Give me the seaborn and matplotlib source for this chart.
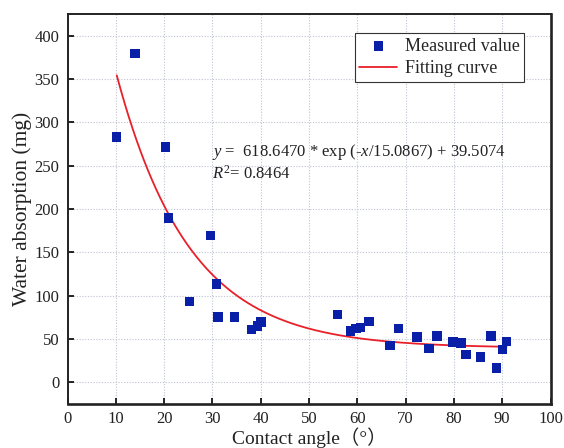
import numpy as np
import pandas as pd
import matplotlib
matplotlib.use("Agg")
import matplotlib.pyplot as plt
import seaborn as sns

# Measured contact angle (deg) and water absorption (mg)
contact_angle = [10.2, 14.0, 20.25, 20.9, 25.2, 29.65, 30.8, 31.2, 34.6, 38.1,
                 39.3, 40.1, 55.9, 58.6, 59.7, 60.6, 62.4, 66.8, 68.5, 72.4,
                 74.8, 76.5, 79.8, 81.5, 82.5, 85.5, 87.7, 88.8, 90.0, 90.9]
water_absorption = [283.0, 379.5, 271.7, 189.4, 93.5, 169.3, 113.5, 75.4, 75.4, 61.2,
                    65.0, 69.6, 78.1, 59.2, 61.9, 63.5, 70.4, 42.3, 61.9, 52.3,
                    38.8, 53.5, 46.5, 45.4, 31.9, 29.2, 53.5, 16.5, 38.1, 47.3]

# Exponential decay fit: y = A * exp(-x / t) + y0
fit_A = 618.6470
fit_t = 15.0867
fit_y0 = 39.5074
fit_r2 = 0.8464

x_ticks = list(range(0, 101, 10))
y_ticks = list(range(0, 401, 50))

sns.set_theme(style="ticks")
plt.rcParams["font.family"] = ["Liberation Serif", "Noto Sans CJK SC", "DejaVu Sans"]
plt.rcParams["mathtext.fontset"] = "custom"
plt.rcParams["mathtext.rm"] = "Liberation Serif"
plt.rcParams["mathtext.it"] = "Liberation Serif:italic"

measured = pd.DataFrame({"angle": contact_angle, "absorption": water_absorption})
x_fit = np.linspace(min(contact_angle), max(contact_angle), 300)
fitted = pd.DataFrame({"angle": x_fit,
                       "absorption": fit_A * np.exp(-x_fit / fit_t) + fit_y0})

fig = plt.figure(figsize=(5.64, 4.48), dpi=100)
ax = fig.add_axes([0.1197, 0.0982, 0.8564, 0.8706])

sns.scatterplot(data=measured, x="angle", y="absorption", ax=ax, marker="s",
                s=46, color="#0a1fa8", edgecolor="none", linewidth=0,
                label="Measured value", zorder=3)
sns.lineplot(data=fitted, x="angle", y="absorption", ax=ax, color="#e8202a",
             linewidth=1.3, label="Fitting curve", zorder=2)

ax.set_xlim(0, 100)
ax.set_ylim(-25, 425)
ax.set_xticks(x_ticks)
ax.set_yticks(y_ticks)
ax.grid(True, color="#bfc3d3", linestyle=(0, (1, 1.5)), linewidth=0.8)
ax.set_axisbelow(True)

ax.tick_params(axis="both", direction="in", length=4.5, width=1.2,
               labelsize=12, pad=6, colors="black", labelcolor="#222222")
ax.tick_params(axis="x", pad=5)
for side in ["left", "top"]:
    ax.spines[side].set_linewidth(1.4)
for side in ["right", "bottom"]:
    ax.spines[side].set_linewidth(1.9)
for sp in ax.spines.values():
    sp.set_color("#222222")

ax.set_xlabel("Contact angle（°）", fontsize=14, labelpad=0, color="#222222")
ax.set_ylabel("Water absorption (mg)", fontsize=15.5, labelpad=1.5, color="#222222")

leg = ax.legend(loc="upper right", bbox_to_anchor=(0.945, 0.951),
                borderaxespad=0, frameon=True, fancybox=False, fontsize=13,
                handlelength=2.1, handletextpad=0.4, borderpad=0.25,
                labelspacing=0.3, framealpha=1)
leg.get_frame().set_edgecolor("#333333")
leg.get_frame().set_linewidth(0.8)

ax.text(0.2985, 0.647,
        f"$y$ =  {fit_A:.4f} * exp (-$x$/{fit_t:.4f}) + {fit_y0:.4f}",
        transform=ax.transAxes, fontsize=12, va="center", ha="left", color="#222222")
ax.text(0.2985, 0.590, f"$R^2$= {fit_r2:.4f}",
        transform=ax.transAxes, fontsize=12, va="center", ha="left", color="#222222")

fig.savefig("out.png", dpi=100)
